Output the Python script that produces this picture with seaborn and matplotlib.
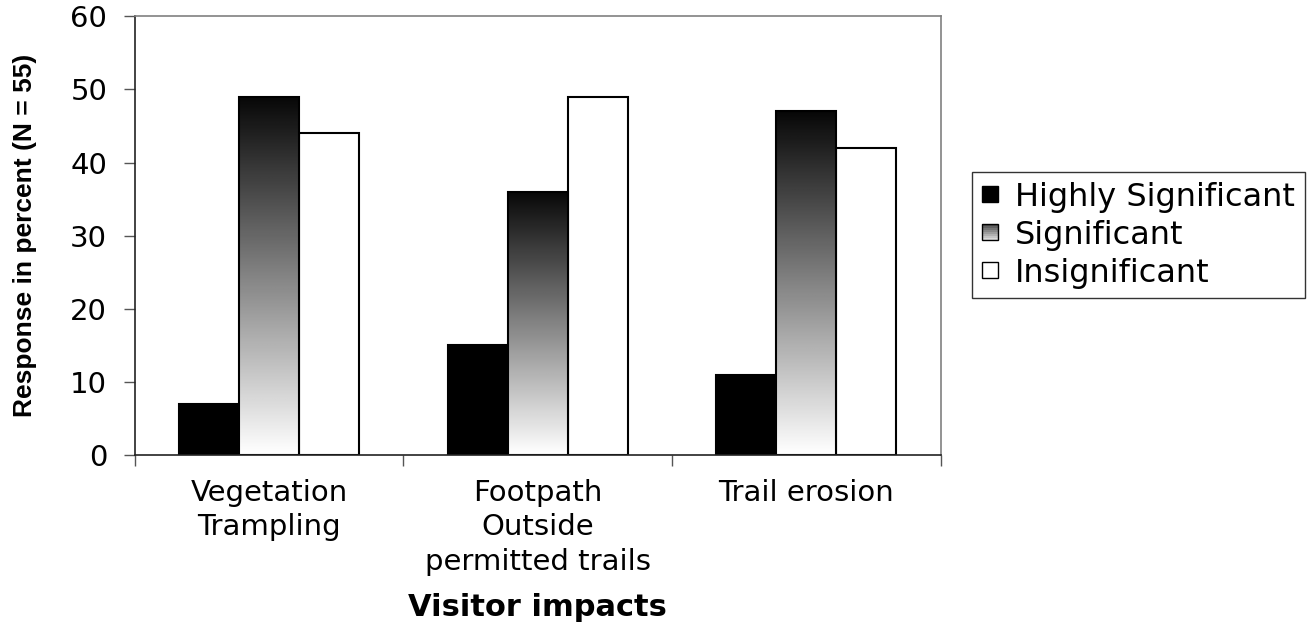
import numpy as np
import pandas as pd
import matplotlib
matplotlib.use("Agg")
import matplotlib.pyplot as plt
import seaborn as sns
from matplotlib.patches import Rectangle
from matplotlib.legend_handler import HandlerBase

# chart data
impacts = ["Vegetation\nTrampling", "Footpath\nOutside\npermitted trails", "Trail erosion"]
levels = ["Highly Significant", "Significant", "Insignificant"]
highly_significant = [7, 15, 11]
significant = [49, 36, 47]
insignificant = [44, 49, 42]

df = pd.DataFrame({
    "impact": impacts * 3,
    "level": [levels[0]] * 3 + [levels[1]] * 3 + [levels[2]] * 3,
    "value": highly_significant + significant + insignificant,
})

sns.set_style("white")
plt.rcParams["font.family"] = ["DejaVu Sans"]
plt.rcParams["text.color"] = "black"
plt.rcParams["axes.labelcolor"] = "black"
plt.rcParams["xtick.labelcolor"] = "black"
plt.rcParams["ytick.labelcolor"] = "black"

fig = plt.figure(figsize=(13.1, 6.26), dpi=100)
ax = fig.add_axes([0.103, 0.273, 0.615, 0.701])

palette = {levels[0]: "black", levels[1]: "white", levels[2]: "white"}
sns.barplot(data=df, x="impact", y="value", hue="level", hue_order=levels,
            order=impacts, palette=palette, width=0.67, edgecolor="black",
            linewidth=1.5, saturation=1, legend=False, ax=ax)

# gradient fill for the "Significant" bars (dark top, light bottom)
grad = np.linspace(1, 0, 256).reshape(-1, 1)
for bar in ax.containers[1]:
    x0, y0 = bar.get_x(), bar.get_y()
    w, h = bar.get_width(), bar.get_height()
    im = ax.imshow(grad, cmap="gray", extent=[x0, x0 + w, y0, y0 + h],
                   origin="lower", aspect="auto", zorder=bar.get_zorder(),
                   vmin=-0.03, vmax=1.0)
    im.set_clip_path(bar)
    bar.set_facecolor("none")
    bar.set_zorder(bar.get_zorder() + 0.1)
ax.set_xlim(-0.5, 2.5)
ax.set_ylim(0, 60)

# spines
for s in ["left", "bottom"]:
    ax.spines[s].set_color("#222222")
    ax.spines[s].set_linewidth(1.2)
for s in ["top", "right"]:
    ax.spines[s].set_color("#808080")
    ax.spines[s].set_linewidth(1.2)

ax.set_yticks(range(0, 61, 10))
ax.tick_params(axis="y", direction="out", length=8, width=1.0, color="#555555",
               labelsize=21, left=True, pad=12)
ax.set_xticks([0, 1, 2])
ax.set_xticklabels(impacts, fontsize=21, linespacing=1.3)
ax.tick_params(axis="x", which="major", length=0, pad=17)
ax.set_xticks([-0.5, 0.5, 1.5, 2.5], minor=True)
ax.tick_params(axis="x", which="minor", direction="out", length=8, width=1.0,
               color="#555555", bottom=True)

ax.set_xlabel("Visitor impacts", fontsize=22, fontweight="bold", labelpad=12)
ax.set_ylabel("Response in percent (N = 55)", fontsize=19, fontweight="bold",
              family=["Liberation Sans", "DejaVu Sans"], labelpad=24)


class GradientHandler(HandlerBase):
    def create_artists(self, legend, orig_handle, xdescent, ydescent,
                       width, height, fontsize, trans):
        arts = []
        n = 8
        for i in range(n):
            c = 0.3 + 0.55 * (1 - i / (n - 1))
            arts.append(Rectangle((-xdescent, -ydescent + height * i / n),
                                  width, height / n, facecolor=str(c),
                                  edgecolor="none", transform=trans))
        arts.append(Rectangle((-xdescent, -ydescent), width, height,
                              facecolor="none", edgecolor="black", lw=1.0,
                              transform=trans))
        return arts


h_hi = Rectangle((0, 0), 1, 1, facecolor="black", edgecolor="black")
h_sig = Rectangle((0, 0), 1, 1, facecolor="gray", edgecolor="black")
h_ins = Rectangle((0, 0), 1, 1, facecolor="white", edgecolor="black")
leg = fig.legend([h_hi, h_sig, h_ins], levels, loc="upper left",
                 bbox_to_anchor=(0.742, 0.725), fontsize=23, frameon=True,
                 fancybox=False, edgecolor="black", handlelength=0.5,
                 handleheight=0.38, handletextpad=0.55, borderpad=0.3,
                 borderaxespad=0, labelspacing=0.22,
                 handler_map={h_sig: GradientHandler()})
leg.get_frame().set_linewidth(1.0)

fig.savefig("out.png", dpi=100)
